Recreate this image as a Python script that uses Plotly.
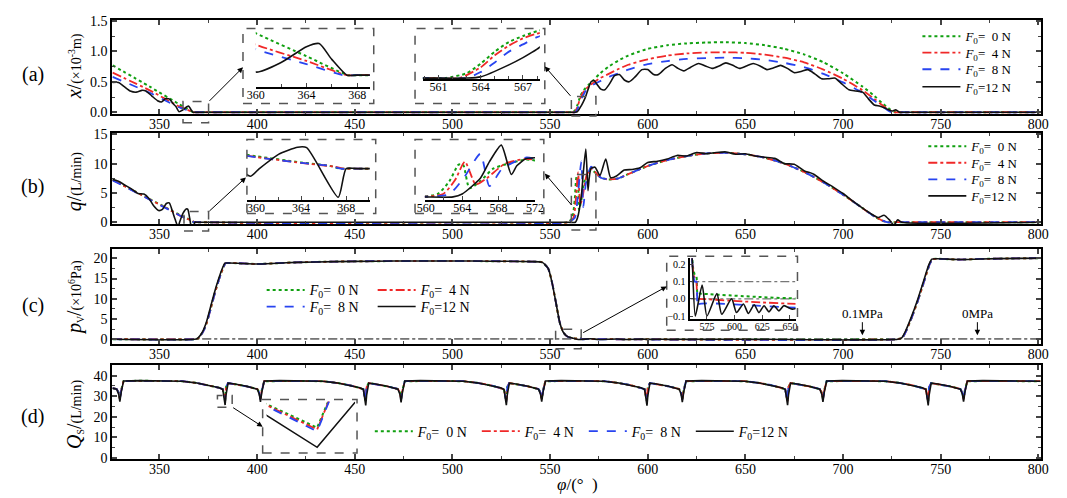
import plotly.graph_objects as go

W, H = 1067, 498
SERIF = "Liberation Serif, Times New Roman, DejaVu Serif, serif"


def fx(p):
    return p / W


def fy(p):
    return 1 - p / H


# ---------------- data ----------------
force_labels = ["<i>F</i><sub>0</sub>=\u20070 N", "<i>F</i><sub>0</sub>=\u20074 N",
                "<i>F</i><sub>0</sub>=\u20078 N", "<i>F</i><sub>0</sub>=12 N"]
line_colors = ["#10a010", "#f02828", "#2844f0", "#111111"]
line_dashes = ["dot", "dashdot", "dash", "solid"]
line_widths = [2.0, 1.8, 1.8, 1.6]

# (a) spool displacement x, 1e-3 m
phi_a_0N = [326, 345, 360, 364, 367.3, 368, 560, 561.5, 563, 564, 565, 566, 567, 568, 570, 572, 575, 580,
            585, 590, 595, 600, 610, 620, 630, 640, 650, 660, 670, 680, 690, 700, 710, 716, 720, 724, 727, 729, 801]
x_0N = [0.77, 0.42, 0.133, 0.06, 0.0, 0.0, 0.0, 0.0, 0.04, 0.12, 0.22, 0.30, 0.35, 0.39, 0.46, 0.52, 0.62, 0.75,
        0.85, 0.93, 0.99, 1.04, 1.10, 1.13, 1.145, 1.15, 1.135, 1.10, 1.04, 0.95, 0.82, 0.64, 0.42, 0.27, 0.15, 0.05, 0.0, 0.0, 0.0]
phi_a_4N = [326, 345, 360, 364, 367.2, 368, 560, 562.5, 564, 565, 566, 567, 568, 570, 572, 575, 580, 585, 590,
            600, 610, 620, 630, 640, 650, 660, 670, 680, 690, 700, 710, 716, 720, 724, 726, 728, 801]
x_4N = [0.65, 0.36, 0.097, 0.045, 0.0, 0.0, 0.0, 0.0, 0.09, 0.19, 0.27, 0.33, 0.37, 0.43, 0.48, 0.55, 0.63, 0.71, 0.78,
        0.87, 0.93, 0.965, 0.98, 0.985, 0.975, 0.945, 0.895, 0.82, 0.70, 0.55, 0.36, 0.22, 0.12, 0.03, 0.0, 0.0, 0.0]
phi_a_8N = [326, 345, 360, 364, 366.9, 368, 560, 563, 564, 565, 566, 567, 568, 570, 572, 575, 580, 585, 590,
            600, 610, 620, 630, 640, 650, 660, 670, 680, 690, 700, 710, 716, 720, 723, 725, 727, 801]
x_8N = [0.58, 0.32, 0.082, 0.035, 0.0, 0.0, 0.0, 0.0, 0.05, 0.13, 0.22, 0.28, 0.34, 0.41, 0.45, 0.50, 0.58, 0.64, 0.70,
        0.79, 0.84, 0.875, 0.89, 0.895, 0.885, 0.86, 0.81, 0.74, 0.63, 0.49, 0.32, 0.19, 0.10, 0.03, 0.0, 0.0, 0.0]
phi_a_12N = [326, 329, 332, 335, 338, 341, 343, 346, 349, 351, 353, 355, 357, 358.5, 360, 362, 364, 365, 366, 367.2,
             368, 560, 563, 564, 566, 567, 568, 569.5, 571, 572.5, 574, 576, 578, 580.5, 583, 585.5, 588, 590.5,
             593.5, 597, 600, 603, 605.5, 609, 612.5, 615.5, 618.5, 622, 626, 629.5, 633, 636.5, 640, 643.5, 647,
             650.5, 654, 657.5, 661, 664.5, 668, 671.5, 675, 678.5, 682, 685.5, 689, 692.5, 696, 699.5, 703, 706.5,
             710, 713, 716, 719, 722, 725, 727, 729, 731, 801]
x_12N = [0.49, 0.49, 0.42, 0.35, 0.33, 0.36, 0.35, 0.27, 0.19, 0.17, 0.22, 0.22, 0.14, 0.09, 0.01, 0.04, 0.09, 0.10, 0.05, 0.0,
         0.0, 0.0, 0.0, 0.01, 0.11, 0.17, 0.24, 0.38, 0.50, 0.52, 0.46, 0.38, 0.37, 0.47, 0.60, 0.62, 0.53, 0.50,
         0.58, 0.70, 0.70, 0.62, 0.62, 0.72, 0.78, 0.72, 0.68, 0.74, 0.80, 0.76, 0.72, 0.76, 0.81, 0.77, 0.72,
         0.76, 0.80, 0.76, 0.70, 0.73, 0.77, 0.72, 0.65, 0.67, 0.70, 0.63, 0.55, 0.55, 0.56, 0.46, 0.37, 0.35,
         0.33, 0.22, 0.12, 0.10, 0.06, 0.02, 0.04, 0.0, 0.0, 0.0]

# (b) flow q, L/min
phi_b_0N = [326, 335, 345, 355, 360, 364, 366.5, 367.5, 369, 559, 561.3, 562.6, 563.6, 564.1, 564.8, 566, 567.4, 569,
            571, 573, 576, 580, 585, 590, 600, 610, 620, 630, 640, 650, 660, 670, 680, 690, 700, 710, 716, 720,
            722.5, 725, 801]
q_0N = [7.25, 5.7, 3.95, 2.2, 1.3, 0.65, 0.3, 0.0, 0.0, 0.0, 0.7, 3.8, 7.8, 7.8, 2.1, 3.8, 6.8, 8.0,
        9.0, 8.5, 7.6, 7.3, 7.5, 8.2, 9.6, 10.6, 11.3, 11.75, 11.85, 11.6, 11.0, 10.0, 8.6, 6.8, 4.7, 2.4, 1.0, 0.3,
        0.0, 0.0, 0.0]
phi_b_4N = [326, 335, 345, 355, 360, 364, 367, 367.8, 369, 559, 561.9, 563.2, 564.3, 565.5, 566.7, 568.7, 571, 573,
            576, 580, 585, 590, 600, 610, 620, 630, 640, 650, 660, 670, 680, 690, 700, 710, 716, 720, 722.5, 725, 801]
q_4N = [7.2, 5.65, 3.9, 2.15, 1.22, 0.6, 0.2, 0.0, 0.0, 0.0, 0.7, 4.0, 8.5, 3.0, 4.5, 8.0, 9.2, 8.6,
        7.6, 7.3, 7.5, 8.2, 9.6, 10.6, 11.3, 11.75, 11.85, 11.6, 11.0, 10.0, 8.6, 6.8, 4.7, 2.4, 1.0, 0.3, 0.0, 0.0, 0.0]
phi_b_8N = [326, 335, 345, 355, 360, 364, 366.5, 367.5, 369, 559, 562.6, 564.3, 566, 567, 568.4, 571, 573, 576,
            580, 585, 590, 600, 610, 620, 630, 640, 650, 660, 670, 680, 690, 700, 710, 716, 720, 722.5, 725, 801]
q_8N = [7.15, 5.6, 3.85, 2.1, 1.2, 0.6, 0.3, 0.0, 0.0, 0.0, 0.7, 5.0, 10.4, 2.6, 6.8, 9.5, 8.7, 7.6,
        7.3, 7.5, 8.2, 9.6, 10.6, 11.3, 11.75, 11.85, 11.6, 11.0, 10.0, 8.6, 6.8, 4.7, 2.4, 1.0, 0.3, 0.0, 0.0, 0.0]
phi_b_12N = [326, 329, 332, 336, 339, 342, 344.5, 347, 349.5, 351.5, 353.5, 355, 356.5, 358, 359.5, 360.3,
             362, 363.7, 364.5, 367.3, 368, 369, 559, 563, 564, 566, 567, 568.3, 569.4, 570, 571, 573,
             575.5, 578.5, 581, 584, 588, 592, 596, 600, 605, 610, 615, 620, 625, 630, 635, 640,
             645, 650, 655, 660, 665, 670, 675, 680, 685, 690, 695, 700, 705, 710, 714, 718,
             721, 724, 726, 728, 730, 801]
q_12N = [7.3, 7.0, 6.4, 5.6, 4.9, 4.8, 4.1, 2.8, 2.0, 2.2, 3.2, 3.3, 2.0, 0.5, -0.8, 0.0,
         1.5, 2.25, 2.2, -3.0, 0.0, 0.0, 0.0, 0.0, 0.7, 4.5, 8.5, 12.5, 5.4, 7.5, 9.2, 9.4,
         8.0, 10.8, 7.6, 7.9, 8.9, 9.0, 9.3, 10.2, 10.4, 10.8, 11.4, 11.3, 11.9, 11.7, 11.9, 12.0,
         11.6, 11.7, 11.3, 11.1, 10.9, 10.0, 9.9, 8.8, 8.2, 7.0, 6.0, 4.9, 3.6, 2.4, 1.5, 0.8,
         1.2, 0.3, -0.5, 0.4, 0.0, 0.0]

# (c) chamber pressure pV, 1e6 Pa
phi_c_col = [326, 368, 369.8, 372.3, 374.3, 376.3, 378.3, 380.3, 382.3, 383.8, 385, 390, 400, 410, 420, 440,
             460, 480, 500, 520, 540, 546, 549, 551, 553, 555, 557, 559, 561, 562.5, 564, 565.5,
             566.5, 568, 728, 730.3, 732.3, 735.3, 738.3, 741.3, 744.3, 745.8, 748, 760, 770, 790, 801]
p_0N = [-0.02, -0.02, 0.2, 1.8, 4.2, 7.7, 11.3, 14.5, 17.3, 18.8, 18.85, 18.8, 18.6, 18.8, 19.0, 19.2,
        19.3, 19.35, 19.35, 19.3, 19.2, 19.0, 17.5, 14.0, 9.0, 4.0, 1.5, 0.6, 0.3, 0.18, 0.14, 0.13,
        0.03, 0.03, 0.03, 0.3, 2.0, 5.5, 9.5, 14.0, 18.5, 19.8, 19.9, 19.7, 19.85, 20.0, 20.05]
p_4N = [0.0, 0.0, 0.2, 1.8, 4.2, 7.7, 11.3, 14.5, 17.3, 18.8, 18.85, 18.8, 18.6, 18.8, 19.0, 19.2,
        19.3, 19.35, 19.35, 19.3, 19.2, 19.0, 17.5, 14.0, 9.0, 4.0, 1.5, 0.6, 0.3, 0.16, 0.12, 0.10,
        0.0, 0.0, 0.0, 0.3, 2.0, 5.5, 9.5, 14.0, 18.5, 19.8, 19.9, 19.7, 19.85, 20.0, 20.05]
p_8N = [-0.03, -0.03, 0.2, 1.8, 4.2, 7.7, 11.3, 14.5, 17.3, 18.8, 18.85, 18.8, 18.6, 18.8, 19.0, 19.2,
        19.3, 19.35, 19.35, 19.3, 19.2, 19.0, 17.5, 14.0, 9.0, 4.0, 1.5, 0.6, 0.3, 0.15, 0.10, 0.10,
        -0.05, -0.03, -0.03, 0.3, 2.0, 5.5, 9.5, 14.0, 18.5, 19.8, 19.9, 19.7, 19.85, 20.0, 20.05]
phi_c_12N = [326, 368, 369.5, 372, 374, 376, 378, 380, 382, 383.5, 385, 390, 400, 410, 420, 440,
             460, 480, 500, 520, 540, 546, 549, 551, 553, 555, 557, 559, 561, 561.8, 564.5, 570.7,
             575, 584, 588.4, 597.3, 601.7, 608, 612.4, 617.7, 622, 626.6, 631, 635.5, 640, 644.4,
             652, 660, 728, 730, 732, 735, 738, 741, 744, 745.5, 748, 760, 770, 790, 801]
p_12N = [-0.05, -0.05, 0.2, 1.8, 4.2, 7.7, 11.3, 14.5, 17.3, 18.8, 18.85, 18.8, 18.6, 18.8, 19.0, 19.2,
         19.3, 19.35, 19.35, 19.3, 19.2, 19.0, 17.5, 14.0, 9.0, 4.0, 1.5, 0.6, 0.3, 0.22, -0.1, 0.08,
         -0.1, 0.03, -0.09, 0.0, -0.08, -0.03, -0.085, -0.035, -0.08, -0.04, -0.075, -0.04, -0.07, -0.04,
         -0.06, -0.05, -0.05, 0.3, 2.0, 5.5, 9.5, 14.0, 18.5, 19.8, 19.9, 19.7, 19.85, 20.0, 20.05]
p_ref_lines = [0.1, 0.0]  # 0.1 MPa and 0 MPa reference levels

# (d) supply flow QS, L/min
phi_d = [326.0, 328.1, 329.1, 329.7, 330.4, 331.6, 339.6, 349.6,
         361.6, 368.6, 375.6, 380.6, 382.4, 383.0, 383.6, 383.75, 384.05, 385.1, 388.6, 394.6, 400.1, 401.1, 401.7, 402.4, 403.6, 411.6, 421.6,
         433.6, 440.6, 447.6, 452.6, 454.4, 455.0, 455.6, 455.75, 456.05, 457.1, 460.6, 466.6, 472.1, 473.1, 473.7, 474.4, 475.6, 483.6, 493.6,
         505.6, 512.6, 519.6, 524.6, 526.4, 527.0, 527.6, 527.75, 528.05, 529.1, 532.6, 538.6, 544.1, 545.1, 545.7, 546.4, 547.6, 555.6, 565.6,
         577.6, 584.6, 591.6, 596.6, 598.4, 599.0, 599.6, 599.75, 600.05, 601.1, 604.6, 610.6, 616.1, 617.1, 617.7, 618.4, 619.6, 627.6, 637.6,
         649.6, 656.6, 663.6, 668.6, 670.4, 671.0, 671.6, 671.75, 672.05, 673.1, 676.6, 682.6, 688.1, 689.1, 689.7, 690.4, 691.6, 699.6, 709.6,
         721.6, 728.6, 735.6, 740.6, 742.4, 743.0, 743.6, 743.75, 744.05, 745.1, 748.6, 754.6, 760.1, 761.1, 761.7, 762.4, 763.6, 771.6, 781.6,
         793.6, 801.0]
qs_0N = [33.9, 33.5, 31.8, 28.8, 33.0, 37.3, 37.5, 37.4,
         37.3, 36.5, 35.3, 34.1, 33.4, 30.3, 27.8, 31.0, 34.5, 36.4, 35.9, 34.8, 33.5, 31.8, 28.8, 33.0, 37.3, 37.5, 37.4,
         37.3, 36.5, 35.3, 34.1, 33.4, 30.3, 27.7, 31.0, 34.5, 36.4, 35.9, 34.8, 33.5, 31.8, 28.7, 33.0, 37.3, 37.5, 37.4,
         37.3, 36.5, 35.3, 34.1, 33.4, 30.3, 27.8, 31.0, 34.5, 36.4, 35.9, 34.8, 33.5, 31.8, 28.8, 33.0, 37.3, 37.5, 37.4,
         37.3, 36.5, 35.3, 34.1, 33.4, 30.3, 27.7, 31.0, 34.5, 36.4, 35.9, 34.8, 33.5, 31.8, 28.7, 33.0, 37.3, 37.5, 37.4,
         37.3, 36.5, 35.3, 34.1, 33.4, 30.3, 27.8, 31.0, 34.5, 36.4, 35.9, 34.8, 33.5, 31.8, 28.8, 33.0, 37.3, 37.5, 37.4,
         37.3, 36.5, 35.3, 34.1, 33.4, 30.3, 27.7, 31.0, 34.5, 36.4, 35.9, 34.8, 33.5, 31.8, 28.7, 33.0, 37.3, 37.5, 37.4,
         37.3, 37.3]
qs_4N = [33.9, 33.5, 31.7, 28.6, 32.8, 37.3, 37.5, 37.4,
         37.3, 36.5, 35.3, 34.1, 33.4, 30.2, 27.6, 30.9, 34.4, 36.4, 35.9, 34.8, 33.5, 31.7, 28.6, 32.8, 37.3, 37.5, 37.4,
         37.3, 36.5, 35.3, 34.1, 33.4, 30.2, 27.5, 30.9, 34.4, 36.4, 35.9, 34.8, 33.5, 31.7, 28.5, 32.8, 37.3, 37.5, 37.4,
         37.3, 36.5, 35.3, 34.1, 33.4, 30.2, 27.6, 30.9, 34.4, 36.4, 35.9, 34.8, 33.5, 31.7, 28.6, 32.8, 37.3, 37.5, 37.4,
         37.3, 36.5, 35.3, 34.1, 33.4, 30.2, 27.5, 30.9, 34.4, 36.4, 35.9, 34.8, 33.5, 31.7, 28.5, 32.8, 37.3, 37.5, 37.4,
         37.3, 36.5, 35.3, 34.1, 33.4, 30.2, 27.6, 30.9, 34.4, 36.4, 35.9, 34.8, 33.5, 31.7, 28.6, 32.8, 37.3, 37.5, 37.4,
         37.3, 36.5, 35.3, 34.1, 33.4, 30.2, 27.5, 30.9, 34.4, 36.4, 35.9, 34.8, 33.5, 31.7, 28.5, 32.8, 37.3, 37.5, 37.4,
         37.3, 37.3]
qs_8N = [33.9, 33.5, 31.6, 28.4, 32.6, 37.3, 37.5, 37.4,
         37.3, 36.5, 35.3, 34.1, 33.4, 30.1, 27.4, 30.8, 34.3, 36.4, 35.9, 34.8, 33.5, 31.6, 28.4, 32.6, 37.3, 37.5, 37.4,
         37.3, 36.5, 35.3, 34.1, 33.4, 30.1, 27.3, 30.8, 34.3, 36.4, 35.9, 34.8, 33.5, 31.6, 28.3, 32.6, 37.3, 37.5, 37.4,
         37.3, 36.5, 35.3, 34.1, 33.4, 30.1, 27.4, 30.8, 34.3, 36.4, 35.9, 34.8, 33.5, 31.6, 28.4, 32.6, 37.3, 37.5, 37.4,
         37.3, 36.5, 35.3, 34.1, 33.4, 30.1, 27.3, 30.8, 34.3, 36.4, 35.9, 34.8, 33.5, 31.6, 28.3, 32.6, 37.3, 37.5, 37.4,
         37.3, 36.5, 35.3, 34.1, 33.4, 30.1, 27.4, 30.8, 34.3, 36.4, 35.9, 34.8, 33.5, 31.6, 28.4, 32.6, 37.3, 37.5, 37.4,
         37.3, 36.5, 35.3, 34.1, 33.4, 30.1, 27.3, 30.8, 34.3, 36.4, 35.9, 34.8, 33.5, 31.6, 28.3, 32.6, 37.3, 37.5, 37.4,
         37.3, 37.3]
qs_12N = [33.9, 33.4, 31.0, 27.4, 32.0, 37.4, 37.6, 37.4,
          37.3, 36.5, 35.3, 34.1, 33.3, 29.1, 25.7, 27.3, 30.5, 36.3, 35.9, 34.8, 33.4, 31.0, 27.2, 32.0, 37.4, 37.6, 37.4,
          37.3, 36.5, 35.3, 34.1, 33.3, 29.0, 25.5, 27.1, 30.4, 36.3, 35.9, 34.8, 33.4, 31.0, 27.0, 32.0, 37.4, 37.6, 37.4,
          37.3, 36.5, 35.3, 34.1, 33.3, 29.1, 25.6, 27.2, 30.5, 36.3, 35.9, 34.8, 33.4, 31.0, 27.3, 32.0, 37.4, 37.6, 37.4,
          37.3, 36.5, 35.3, 34.1, 33.3, 29.0, 25.4, 27.0, 30.4, 36.3, 35.9, 34.8, 33.4, 31.0, 27.1, 32.0, 37.4, 37.6, 37.4,
          37.3, 36.5, 35.3, 34.1, 33.3, 29.1, 25.6, 27.2, 30.5, 36.3, 35.9, 34.8, 33.4, 31.0, 27.2, 32.0, 37.4, 37.6, 37.4,
          37.3, 36.5, 35.3, 34.1, 33.3, 29.0, 25.5, 27.1, 30.4, 36.3, 35.9, 34.8, 33.4, 31.0, 27.3, 32.0, 37.4, 37.6, 37.4,
          37.3, 37.3]

x_ticks = [350, 400, 450, 500, 550, 600, 650, 700, 750, 800]

series_a = [(phi_a_0N, x_0N), (phi_a_4N, x_4N), (phi_a_8N, x_8N), (phi_a_12N, x_12N)]
series_b = [(phi_b_0N, q_0N), (phi_b_4N, q_4N), (phi_b_8N, q_8N), (phi_b_12N, q_12N)]
series_c = [(phi_c_col, p_0N), (phi_c_col, p_4N), (phi_c_col, p_8N), (phi_c_12N, p_12N)]
series_d = [(phi_d, qs_0N), (phi_d, qs_4N), (phi_d, qs_8N), (phi_d, qs_12N)]

# ---------------- figure ----------------
fig = go.Figure()


def add_line(xv, yv, i, xa, ya, legend=None, smooth=True):
    fig.add_trace(go.Scatter(
        x=xv, y=yv, mode="lines", xaxis=xa, yaxis=ya,
        name=force_labels[i], legend=legend or "legend", showlegend=legend is not None,
        line=dict(color=line_colors[i], dash=line_dashes[i], width=line_widths[i],
                  shape="spline" if smooth else "linear", smoothing=0.6),
        hoverinfo="skip"))


# one legend per row in (a) and (b), two rows in (c), one row in (d)
legend_a = ["legend", "legend2", "legend3", "legend4"]
legend_b = ["legend5", "legend6", "legend7", "legend8"]
legend_c = ["legend9", "legend9", "legend10", "legend10"]

for i in range(4):
    add_line(*series_a[i], i, "x", "y", legend=legend_a[i])
    add_line(*series_a[i], i, "x5", "y5")
    add_line(*series_a[i], i, "x6", "y6")
    add_line(*series_b[i], i, "x2", "y2", legend=legend_b[i])
    add_line(*series_b[i], i, "x7", "y7")
    add_line(*series_b[i], i, "x8", "y8")

# reference pressure levels in (c)
for lvl in p_ref_lines:
    for xa, ya, xr in (("x3", "y3", [325.8, 801.5]), ("x9", "y9", [560, 655])):
        fig.add_trace(go.Scatter(x=xr, y=[lvl, lvl], mode="lines", xaxis=xa, yaxis=ya,
                                 showlegend=False, hoverinfo="skip",
                                 line=dict(color="#777777", dash="dashdot", width=1.2)))

for i in range(4):
    add_line(*series_c[i], i, "x3", "y3", legend=legend_c[i])
    add_line(*series_c[i], i, "x9", "y9")
for i in range(4):
    add_line(*series_d[i], i, "x4", "y4", legend="legend11", smooth=False)
    add_line(*series_d[i], i, "x10", "y10", smooth=False)

tick_font = dict(family=SERIF, size=14, color="black")
main_x = dict(range=[325.8, 801.5], tickvals=x_ticks, ticks="inside", ticklen=5, tickwidth=1.5,
              showline=True, linewidth=2, linecolor="black", mirror="ticks", showgrid=False,
              zeroline=False, tickfont=tick_font, domain=[fx(105), fx(1050)], ticklabelstandoff=-4,
              minor=dict(dtick=25, tick0=325, ticks="inside", ticklen=3, tickwidth=1, showgrid=False))


def main_y(rng, dtick, mdtick, dom, fmt=None):
    d = dict(range=rng, dtick=dtick, tick0=0, ticks="inside", ticklen=5, tickwidth=1.5,
             showline=True, linewidth=2, linecolor="black", mirror="ticks", showgrid=False,
             zeroline=False, tickfont=tick_font, domain=dom,
             minor=dict(dtick=mdtick, tick0=0, ticks="inside", ticklen=3, tickwidth=1, showgrid=False))
    if fmt:
        d["tickformat"] = fmt
    return d


inset_font = dict(family=SERIF, size=12, color="black")


def inset_x(rng, dom, yname, tickvals, minor_dtick=None, show=True):
    d = dict(range=rng, domain=dom, anchor=yname, showgrid=False, zeroline=False)
    if not show:
        d["visible"] = False
        return d
    d.update(showline=True, linewidth=1.5, linecolor="black", ticks="inside", ticklen=4,
             tickwidth=1.2, tickvals=tickvals, tickfont=inset_font, ticklabelstandoff=-4)
    if minor_dtick:
        d["minor"] = dict(dtick=minor_dtick, tick0=tickvals[0], ticks="inside", ticklen=3, tickwidth=1)
    return d


def hidden_y(rng, dom, xname):
    return dict(range=rng, domain=dom, anchor=xname, visible=False, showgrid=False, zeroline=False)


legend_v = dict(bgcolor="rgba(0,0,0,0)", font=dict(family=SERIF, size=13, color="black"),
                tracegroupgap=0, itemwidth=38, xanchor="left", yanchor="middle")
legend_h = dict(legend_v, orientation="h", font=dict(family=SERIF, size=14, color="black"),
                entrywidthmode="pixels")

legend_layout = {}
for name, yrow in zip(legend_a, (31, 48, 65, 83)):
    legend_layout[name] = dict(legend_v, x=fx(924), y=fy(yrow))
for name, yrow in zip(legend_b, (144, 161, 178, 195)):
    legend_layout[name] = dict(legend_v, x=fx(930), y=fy(yrow))
legend_layout["legend9"] = dict(legend_h, x=fx(257), y=fy(292), entrywidth=58)
legend_layout["legend10"] = dict(legend_h, x=fx(257), y=fy(309), entrywidth=58)
legend_layout["legend11"] = dict(legend_h, x=fx(367), y=fy(437), entrywidth=54)

fig.update_layout(
    width=W, height=H, margin=dict(l=0, r=0, t=0, b=0),
    paper_bgcolor="white", plot_bgcolor="white",
    font=dict(family=SERIF, size=13, color="black"),
    xaxis=dict(main_x, anchor="y"),
    xaxis2=dict(main_x, anchor="y2"),
    xaxis3=dict(main_x, anchor="y3"),
    xaxis4=dict(main_x, anchor="y4"),
    yaxis=dict(main_y([-0.03, 1.52], 0.5, 0.25, [fy(111), fy(14)], ".1f"), anchor="x"),
    yaxis2=dict(main_y([-0.33, 15.3], 5, 2.5, [fy(224), fy(130)]), anchor="x2"),
    yaxis3=dict(main_y([-1.2, 22.2], 5, 2.5, [fy(347), fy(250)]), anchor="x3"),
    yaxis4=dict(main_y([-0.5, 45], 10, 5, [fy(465), fy(369)]), anchor="x4"),
    xaxis5=inset_x([360, 369], [fx(251), fx(367)], "y5", [360, 364, 368], 2),
    yaxis5=hidden_y([-0.037, 0.142], [fy(83), fy(25)], "x5"),
    xaxis6=inset_x([559.9, 568.2], [fx(421), fx(540)], "y6", [561, 564, 567], 1),
    yaxis6=hidden_y([-0.008, 0.405], [fy(75), fy(24)], "x6"),
    xaxis7=inset_x([359.2, 370.1], [fx(242), fx(367)], "y7", [360, 364, 368], 2),
    yaxis7=hidden_y([-3.27, 2.86], [fy(199), fy(139)], "x7"),
    xaxis8=inset_x([559.9, 572], [fx(423), fx(535)], "y8", [560, 564, 568, 572], 2),
    yaxis8=hidden_y([-0.7, 13.4], [fy(199), fy(139)], "x8"),
    xaxis9=dict(inset_x([560, 655], [fx(693), fx(800)], "y9", [575, 600, 625, 650]),
                tickfont=dict(family=SERIF, size=10, color="black"), ticklabelstandoff=-2),
    yaxis9=dict(range=[-0.115, 0.235], domain=[fy(321), fy(259)], anchor="x9", showgrid=False,
                zeroline=False, showline=True, linewidth=1.5, linecolor="black", ticks="inside",
                ticklen=3, tickvals=[-0.1, 0.0, 0.1, 0.2], tickformat=".1f",
                tickfont=dict(family=SERIF, size=10, color="black"), ticklabelstandoff=1),
    xaxis10=inset_x([383.0, 384.05], [fx(262), fx(352)], "y10", None, show=False),
    yaxis10=hidden_y([25.3, 30.6], [fy(457), fy(406)], "x10"),
    **legend_layout,
)

# dashed zoom boxes and inset frames
box_line = dict(color="#555555", width=1.5, dash="dash")
frames = [
    (238, 23, 371, 100), (413, 23, 545, 100),
    (242, 137, 373, 213), (413, 137, 544, 213),
    (669, 257, 802, 333), (258, 404, 354, 459),
    (177, 98, 203, 120), (572, 93, 597, 113),
    (178, 211, 203, 231), (572, 173, 597, 230),
    (556, 332, 582, 352), (212, 400, 227, 412),
]
for x0, y0, x1, y1 in frames:
    fig.add_shape(type="rect", xref="paper", yref="paper",
                  x0=fx(x0), x1=fx(x1), y0=fy(y1), y1=fy(y0), line=box_line)

# arrows from zoom boxes to insets (tail -> head, pixel coordinates)
arrows = [((203, 98), (238, 63)), ((572, 93), (545, 62)),
          ((203, 211), (241, 176)), ((573, 205), (545, 172)),
          ((584, 335), (669, 288)), ((227, 412), (258, 432))]
for (tx, ty), (hx, hy) in arrows:
    fig.add_annotation(x=fx(hx), y=fy(hy), xref="paper", yref="paper", text="",
                       showarrow=True, ax=tx - hx, ay=ty - hy, arrowhead=2, arrowsize=1.1,
                       arrowwidth=1, arrowcolor="black", standoff=0)

# pressure level labels
for txt, hx in (("0.1MPa", 868), ("0MPa", 985)):
    fig.add_annotation(x=fx(hx), y=fy(338), xref="paper", yref="paper", text=txt,
                       showarrow=True, ax=0, ay=-22, arrowhead=2, arrowsize=1.1, arrowwidth=1,
                       arrowcolor="black", font=dict(family=SERIF, size=13, color="black"))

# panel letters
for txt, y in (("(a)", 70), ("(b)", 185), ("(c)", 308), ("(d)", 422)):
    fig.add_annotation(x=fx(24), y=fy(y), xref="paper", yref="paper", text=txt, showarrow=False,
                       xanchor="center", yanchor="middle",
                       font=dict(family=SERIF, size=20, color="black"))

# y-axis titles
big = '<span style="font-size:20px">'
y_titles = [
    (big + "<i>x</i>/</span>(×10<sup>-3</sup>m)", 62),
    (big + "<i>q</i>/</span>(L/min)", 180),
    (big + "<i>p</i></span><sub>V</sub>" + big + "/</span>(×10<sup>6</sup>Pa)", 299),
    (big + "<i>Q</i></span><sub>S</sub>" + big + "/</span>(L/min)", 419),
]
for txt, y in y_titles:
    fig.add_annotation(x=fx(66), y=fy(y), xref="paper", yref="paper", text=txt, showarrow=False,
                       textangle=-90, xanchor="center", yanchor="middle",
                       font=dict(family=SERIF, size=14, color="black"))

# x-axis title
fig.add_annotation(x=fx(578), y=fy(491), xref="paper", yref="paper",
                   text="<i>φ</i>/(°\u2002)", showarrow=False, xanchor="center", yanchor="middle",
                   font=dict(family=SERIF, size=17, color="black"))

fig.write_html("out.html")
